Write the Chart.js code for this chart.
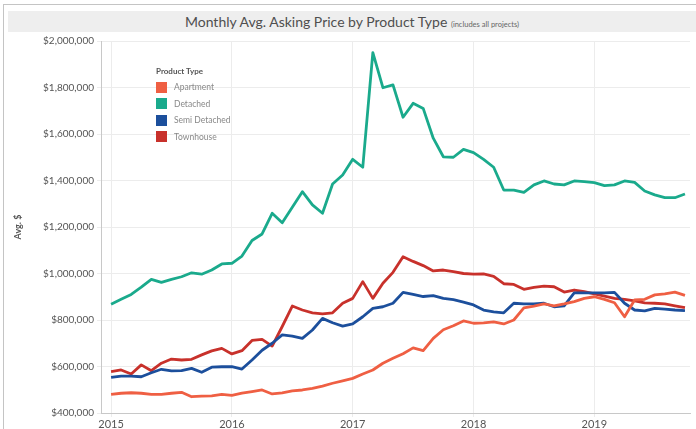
<!DOCTYPE html>
<html>
<head>
<meta charset="utf-8">
<script src="https://cdn.jsdelivr.net/npm/chart.js@4/dist/chart.umd.min.js"></script>
<style>
    body { margin: 0; background: #fff; font-family: Lato, sans-serif; }
    #wrap { position: relative; width: 696px; height: 429px; overflow: hidden; background: #fff; }
    .frame { position: absolute; left: 3px; top: 4px; width: 700px; height: 440px; border-top: 1px solid #c4c4c4; border-left: 1px solid #c4c4c4; }
    .title-bar { position: absolute; left: 8px; top: 11px; width: 688px; height: 21px; background: #eeeeee;
        text-align: center; line-height: 21px; font-size: 14px; color: #4f4f4f; }
    .title-bar small { font-size: 7.5px; color: #666; }
    #priceChart { position: absolute; left: 0; top: 0; }
    #legend { position: absolute; left: 156px; top: 66px; font-size: 8.5px; color: #888; }
    #legend .head { font-weight: bold; font-size: 8px; color: #555; margin-bottom: 3px; }
    #legend .item { height: 16.5px; display: flex; align-items: center; }
    #legend .swatch { width: 11px; height: 11px; margin-right: 7px; }
</style>
</head>
<body>
<div id="wrap">
    <div class="frame"></div>
    <div class="title-bar">Monthly Avg. Asking Price by Product Type <small>(includes all projects)</small></div>
    <canvas id="priceChart" width="696" height="429"></canvas>
    <div id="legend"><div class="head">Product Type</div></div>
</div>
<script>
// monthly figures, in thousands of dollars
const months = [
    '2015-01','2015-02','2015-03','2015-04','2015-05','2015-06','2015-07','2015-08','2015-09','2015-10','2015-11','2015-12',
    '2016-01','2016-02','2016-03','2016-04','2016-05','2016-06','2016-07','2016-08','2016-09','2016-10','2016-11','2016-12',
    '2017-01','2017-02','2017-03','2017-04','2017-05','2017-06','2017-07','2017-08','2017-09','2017-10','2017-11','2017-12',
    '2018-01','2018-02','2018-03','2018-04','2018-05','2018-06','2018-07','2018-08','2018-09','2018-10','2018-11','2018-12',
    '2019-01','2019-02','2019-03','2019-04','2019-05','2019-06','2019-07','2019-08','2019-09','2019-10'
];
const years = ['2015', '2016', '2017', '2018', '2019'];
const productTypes = ['Apartment', 'Detached', 'Semi Detached', 'Townhouse'];
const typeColors = ['#ef5f43', '#1aaa8c', '#1c4f9c', '#c8312b'];

const apartment = [480,485,487,485,480,480,485,489,470,473,474,480,
    476,485,492,499,482,487,495,499,506,516,528,538,
    549,568,585,614,635,655,680,668,721,758,775,796,
    786,788,792,783,800,852,860,869,861,869,879,893,
    900,889,874,814,886,889,908,912,920,906];
const detached = [868,889,910,941,975,962,975,986,1003,997,1015,1041,
    1044,1075,1142,1170,1259,1218,1285,1352,1295,1259,1385,1424,
    1491,1457,1950,1799,1811,1672,1732,1710,1582,1502,1500,1534,
    1520,1491,1457,1359,1359,1349,1381,1398,1385,1381,1398,1395,
    1391,1378,1381,1398,1392,1355,1338,1326,1326,1342];
const semiDetached = [553,559,559,556,573,588,581,582,592,575,597,599,
    599,589,628,670,700,736,731,721,757,807,788,774,
    783,814,850,857,872,919,910,901,905,893,888,877,
    865,843,835,831,872,869,869,872,857,861,917,917,
    917,917,919,872,843,839,850,847,843,840];
const townhouse = [578,585,568,607,582,614,632,628,631,650,667,678,
    654,668,712,717,688,772,860,843,831,826,831,872,
    893,965,893,958,1005,1072,1052,1034,1011,1015,1008,1000,
    997,998,988,956,953,932,940,946,943,920,929,922,
    912,903,893,889,882,874,872,869,861,853];

const series = [apartment, detached, semiDetached, townhouse];

document.addEventListener('DOMContentLoaded', function() {
    const legend = document.getElementById('legend');
    productTypes.forEach(function(name, k) {
        const item = document.createElement('div');
        item.className = 'item';
        item.innerHTML = '<span class="swatch" style="background:' + typeColors[k] + '"></span>' + name;
        legend.appendChild(item);
    });

    const ctx = document.getElementById('priceChart').getContext('2d');
    const priceChart = new Chart(ctx, {
        type: 'line',
        data: {
            datasets: productTypes.map(function(name, k) {
                return {
                    label: name,
                    data: series[k].map(function(v, i) { return { x: i, y: v }; }),
                    borderColor: typeColors[k],
                    backgroundColor: typeColors[k],
                    borderWidth: 2.8,
                    pointRadius: 0,
                    tension: 0,
                    borderJoinStyle: 'round',
                    fill: false
                };
            })
        },
        options: {
            responsive: false,
            animation: false,
            devicePixelRatio: 1,
            layout: { padding: { top: 41, right: 6, bottom: 0, left: 0 } },
            plugins: {
                legend: { display: false },
                tooltip: { enabled: false }
            },
            scales: {
                x: {
                    type: 'linear',
                    min: -1,
                    max: 57.5,
                    afterBuildTicks: function(scale) {
                        scale.ticks = years.map(function(y, k) { return { value: k * 12 }; });
                    },
                    afterFit: function(scale) { scale.height = 16; },
                    ticks: {
                        callback: function(v) { return years[v / 12]; },
                        color: '#555',
                        font: { family: 'Lato', size: 11 },
                        padding: 1,
                        maxRotation: 0
                    },
                    grid: { color: '#ececec', tickLength: 4 },
                    border: { color: '#c8c8c8' }
                },
                y: {
                    min: 400,
                    max: 2000,
                    afterFit: function(scale) { scale.width = 101; },
                    ticks: {
                        stepSize: 200,
                        callback: function(v) { return '$' + (v * 1000).toLocaleString('en-US'); },
                        color: '#555',
                        font: { family: 'Lato', size: 10 },
                        padding: 3
                    },
                    grid: { color: '#ececec', tickLength: 4 },
                    border: { color: '#c8c8c8' },
                    title: {
                        display: true,
                        text: 'Avg. $',
                        color: '#555',
                        font: { family: 'Lato', size: 9, weight: 'bold' },
                        padding: { top: 13, bottom: 0 }
                    }
                }
            }
        }
    });
});
</script>
</body>
</html>
